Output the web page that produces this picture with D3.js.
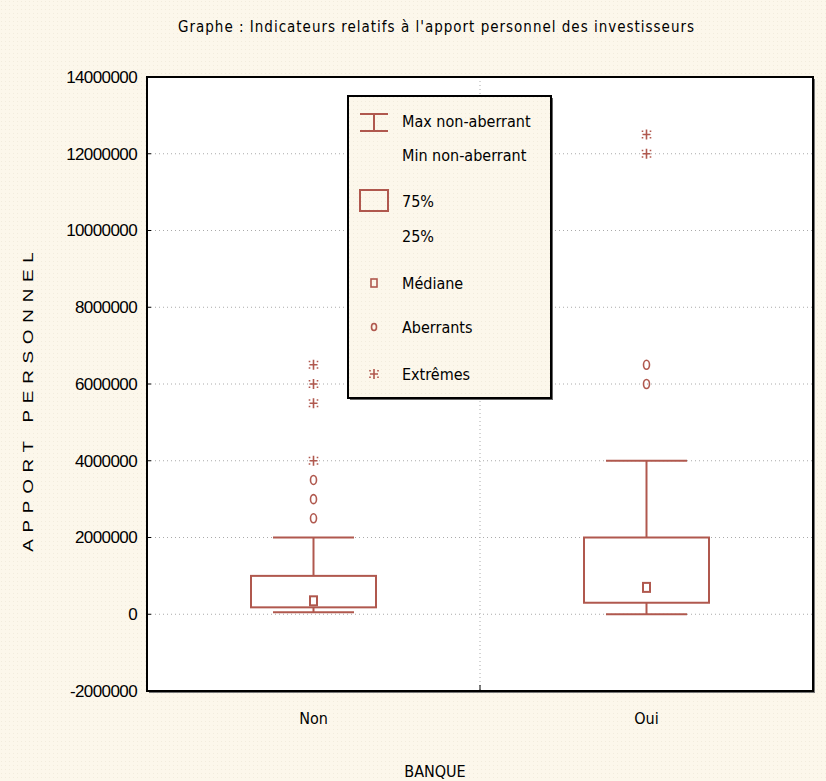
<!DOCTYPE html>
<html lang="fr">
<head>
<meta charset="UTF-8">
<title>Indicateurs relatifs à l'apport personnel</title>
<script src="https://d3js.org/d3.v7.min.js"></script>
<style>
  body { margin:0; background:#fcf7eb; }
  svg { display:block; }
  .narrow { font-family: "DejaVu Sans Condensed", "Liberation Sans Narrow", "Liberation Sans", sans-serif; font-stretch: condensed; }
</style>
</head>
<body>
<svg id="chart" width="826" height="781"></svg>
<script>
// data
var categories   = ["Non", "Oui"];
var whiskerLow   = [50000, 0];
var q1           = [180000, 300000];
var medians      = [350000, 700000];
var q3           = [1000000, 2000000];
var whiskerHigh  = [2000000, 4000000];
var outliers     = [[2500000, 3000000, 3500000], [6000000, 6500000]];
var extremes     = [[4000000, 5500000, 6000000, 6500000], [12000000, 12500000]];
var yTicks       = [-2000000, 0, 2000000, 4000000, 6000000, 8000000, 10000000, 12000000, 14000000];

var red = "#b0584e";
var svg = d3.select("#chart");

var pLeft = 147, pRight = 813, pTop = 77, pBottom = 691;

var x = d3.scaleBand().domain(categories).range([pLeft, pRight]);
var y = d3.scaleLinear().domain([-2000000, 14000000]).range([pBottom, pTop]);

// page dotted texture
var defs = svg.append("defs");
var pat = defs.append("pattern").attr("id", "dots")
  .attr("width", 4).attr("height", 4).attr("patternUnits", "userSpaceOnUse");
pat.append("rect").attr("width", 4).attr("height", 4).attr("fill", "#fcf7eb");
pat.append("rect").attr("x", 1).attr("y", 1).attr("width", 1).attr("height", 1).attr("fill", "#f2ecdd");
svg.append("rect").attr("width", 826).attr("height", 781).attr("fill", "url(#dots)");

// title
svg.append("text").attr("class", "narrow")
  .attr("x", 436).attr("y", 32)
  .attr("text-anchor", "middle")
  .style("font-size", "15px")
  .attr("textLength", 516)
  .text("Graphe : Indicateurs relatifs à l'apport personnel des investisseurs");

// plot area
svg.append("rect")
  .attr("x", pLeft + 2).attr("y", pTop + 2)
  .attr("width", pRight - pLeft).attr("height", pBottom - pTop)
  .attr("fill", "#777");
svg.append("rect")
  .attr("x", pLeft).attr("y", pTop)
  .attr("width", pRight - pLeft).attr("height", pBottom - pTop)
  .attr("fill", "#fff");

// grid
svg.append("g").selectAll("line")
  .data(yTicks.filter(function(d){ return d > -2000000 && d < 14000000; }))
  .enter().append("line")
  .attr("x1", pLeft).attr("x2", pRight)
  .attr("y1", function(d){ return y(d); }).attr("y2", function(d){ return y(d); })
  .attr("stroke", "#aaa").attr("stroke-dasharray", "1,3");
svg.append("line")
  .attr("x1", (pLeft + pRight) / 2).attr("x2", (pLeft + pRight) / 2)
  .attr("y1", pTop).attr("y2", pBottom)
  .attr("stroke", "#aaa").attr("stroke-dasharray", "1,3");
svg.append("line")
  .attr("x1", (pLeft + pRight) / 2).attr("x2", (pLeft + pRight) / 2)
  .attr("y1", pBottom - 6).attr("y2", pBottom)
  .attr("stroke", "#000");

// y axis labels
var yAxis = d3.axisLeft(y).tickValues(yTicks).tickSize(0).tickPadding(10)
  .tickFormat(function(d){ return String(d); });
svg.append("g")
  .attr("transform", "translate(" + pLeft + ",0)")
  .call(yAxis)
  .call(function(g){ g.select(".domain").remove(); })
  .selectAll("text")
  .style("font-family", "'Liberation Sans', Arial, sans-serif")
  .style("font-size", "17px")
  .style("letter-spacing", "-0.6px")
  .attr("fill", "#000");

// y ticks inside
svg.append("g").selectAll("line")
  .data(yTicks).enter().append("line")
  .attr("x1", pLeft).attr("x2", pLeft + 4)
  .attr("y1", function(d){ return y(d); }).attr("y2", function(d){ return y(d); })
  .attr("stroke", "#000");

// x labels
svg.append("g").selectAll("text")
  .data(categories).enter().append("text")
  .attr("class", "narrow")
  .attr("x", function(d){ return x(d) + x.bandwidth() / 2; })
  .attr("y", 724)
  .attr("text-anchor", "middle")
  .style("font-size", "16px")
  .text(function(d){ return d; });

svg.append("text").attr("class", "narrow")
  .attr("x", 435).attr("y", 777)
  .attr("text-anchor", "middle")
  .style("font-size", "16px")
  .text("BANQUE");

// wide letters, as in the original
svg.append("text")
  .attr("transform", "translate(33,402) rotate(-90) scale(1.35,1)")
  .attr("text-anchor", "middle")
  .style("font-family", "'Liberation Sans', Arial, sans-serif")
  .style("font-size", "14px")
  .attr("textLength", 222)
  .attr("lengthAdjust", "spacing")
  .text("APPORT PERSONNEL");

// boxes
var boxW = 125, capW = 81;
var g = svg.append("g").attr("stroke", red).attr("stroke-width", 2).attr("fill", "none");

categories.forEach(function(c, i) {
  var cx = x(c) + x.bandwidth() / 2;
  g.append("line").attr("x1", cx).attr("x2", cx).attr("y1", y(whiskerHigh[i])).attr("y2", y(q3[i]));
  g.append("line").attr("x1", cx).attr("x2", cx).attr("y1", y(q1[i])).attr("y2", y(whiskerLow[i]));
  g.append("line").attr("x1", cx - capW / 2).attr("x2", cx + capW / 2).attr("y1", y(whiskerHigh[i])).attr("y2", y(whiskerHigh[i]));
  g.append("line").attr("x1", cx - capW / 2).attr("x2", cx + capW / 2).attr("y1", y(whiskerLow[i])).attr("y2", y(whiskerLow[i]));
  g.append("rect")
    .attr("x", cx - boxW / 2).attr("y", y(q3[i]))
    .attr("width", boxW).attr("height", y(q1[i]) - y(q3[i]));
  g.append("rect")
    .attr("x", cx - 3.5).attr("y", y(medians[i]) - 4.5)
    .attr("width", 7).attr("height", 9).attr("fill", "#fff");

  outliers[i].forEach(function(v) {
    g.append("ellipse").attr("cx", cx).attr("cy", y(v)).attr("rx", 3).attr("ry", 4.5)
      .attr("stroke-width", 1.6);
  });
  extremes[i].forEach(function(v) {
    drawStar(g, cx, y(v));
  });
});

function drawStar(sel, cx, cy) {
  sel.append("path")
    .attr("d", "M" + (cx - 4) + "," + cy + "H" + (cx + 4) + "M" + cx + "," + (cy - 5) + "V" + (cy + 5) +
      "M" + (cx - 4) + "," + (cy - 4) + "v1.5M" + (cx + 4) + "," + (cy - 4) + "v1.5" +
      "M" + (cx - 4) + "," + (cy + 2.5) + "v1.5M" + (cx + 4) + "," + (cy + 2.5) + "v1.5")
    .attr("stroke-width", 1.6);
}

// plot border
svg.append("rect")
  .attr("x", pLeft).attr("y", pTop)
  .attr("width", pRight - pLeft).attr("height", pBottom - pTop)
  .attr("fill", "none").attr("stroke", "#000").attr("stroke-width", 2);

// legend
var lx = 348, ly = 96, lw = 203, lh = 302;
svg.append("rect").attr("x", lx + 2).attr("y", ly + 2).attr("width", lw).attr("height", lh).attr("fill", "#666");
svg.append("rect").attr("x", lx).attr("y", ly).attr("width", lw).attr("height", lh)
  .attr("fill", "url(#dots)").attr("stroke", "#000").attr("stroke-width", 2);

var legendText = [
  ["Max non-aberrant", 121],
  ["Min non-aberrant", 155],
  ["75%", 201],
  ["25%", 236],
  ["Médiane", 283],
  ["Aberrants", 327],
  ["Extrêmes", 374]
];
var leg = svg.append("g");
leg.selectAll("text").data(legendText).enter().append("text")
  .attr("class", "narrow")
  .attr("x", 402)
  .attr("y", function(d){ return d[1]; })
  .attr("dy", "0.35em")
  .style("font-size", "16px")
  .text(function(d){ return d[0]; });

var lg = leg.append("g").attr("stroke", red).attr("stroke-width", 2).attr("fill", "none");
lg.append("path").attr("d", "M360,114H388M374,114V131M360,131H388");
lg.append("rect").attr("x", 360).attr("y", 190).attr("width", 28).attr("height", 21);
lg.append("rect").attr("x", 371).attr("y", 279).attr("width", 6).attr("height", 8).attr("stroke-width", 1.6);
lg.append("ellipse").attr("cx", 374).attr("cy", 327).attr("rx", 2.5).attr("ry", 3.5).attr("stroke-width", 1.6);
drawStar(lg, 374, 374);
</script>
</body>
</html>
